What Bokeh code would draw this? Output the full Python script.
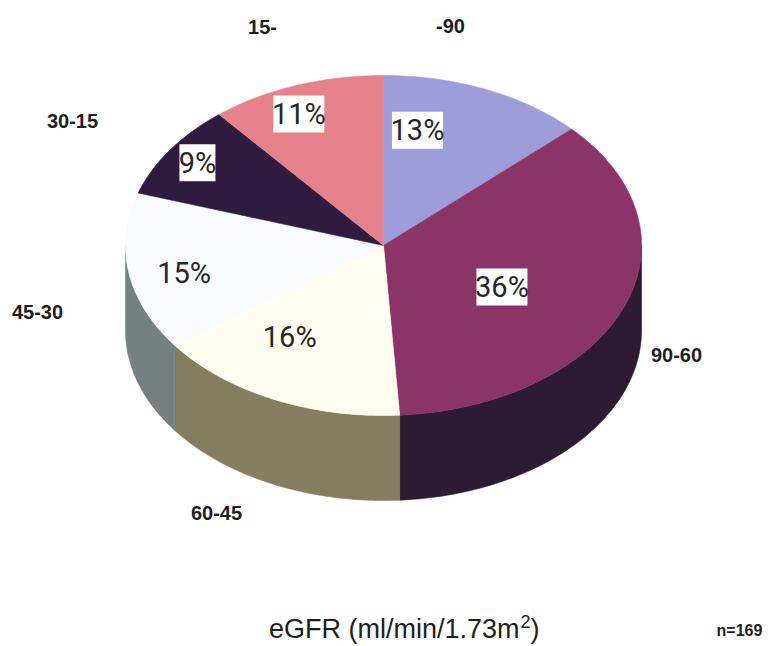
import math

from bokeh.core.properties import value
from bokeh.embed import file_html
from bokeh.models import Range1d
from bokeh.plotting import figure
from bokeh.resources import INLINE

# --- data -------------------------------------------------------------
categories = ["-90", "90-60", "60-45", "45-30", "30-15", "15-"]
shares = [13, 36, 16, 15, 9, 11]          # percent of patients
boxed = [True, True, False, False, True, True]
top_colors = ["#9d9ed9", "#8b3467", "#fffdf0", "#f9fcff", "#2f1b3f", "#e6828b"]
side_colors = ["#6d6ea3", "#2d1a33", "#847d5f", "#758181", "#1b1026", "#a85a62"]
n_patients = 169
title_main, title_sup, title_end = "eGFR (ml/min/1.73m", "2", ")"

# --- layout -------------------------------------------------------------
W, H = 768, 646
CX, CY = 383, 245          # pie centre
RX, RY = 258, 170          # ellipse radii of the top face
DEPTH = 85                 # thickness of the disc

# percent label placement: (angle clockwise from top, fraction of radius)
pct_polar = [(11, 0.69), (118, 0.52), (214, 0.65), (258, 0.79), (304, 0.87), (337, 0.84)]
# category label anchors
cat_pos = [(450, 25), (676, 354), (216, 512), (37, 311), (72, 120), (262, 26)]


def pt(theta_deg, r=1.0, drop=0.0):
    t = math.radians(theta_deg)
    return CX + RX * r * math.sin(t), CY - RY * r * math.cos(t) + drop


def arc(t1, t2, drop=0.0, step=1.0):
    n = max(2, int(abs(t2 - t1) / step) + 1)
    return [pt(t1 + (t2 - t1) * i / (n - 1), 1.0, drop) for i in range(n)]


total = float(sum(shares))
starts, ends = [], []
acc = 0.0
for s in shares:
    starts.append(acc / total * 360.0)
    acc += s
    ends.append(acc / total * 360.0)

p = figure(width=W, height=H, x_range=Range1d(0, W), y_range=Range1d(H, 0),
           x_axis_type=None, y_axis_type=None, toolbar_location=None,
           output_backend="svg", min_border=0, outline_line_color=None)
p.grid.visible = False
p.background_fill_color = "white"
p.border_fill_color = "white"

# front rim of the disc (only the half facing the viewer shows)
side_xs, side_ys, side_c = [], [], []
for t1, t2, c in zip(starts, ends, side_colors):
    a, b = max(t1, 90.0), min(t2, 270.0)
    if a >= b:
        continue
    pts = arc(a, b) + arc(b, a, DEPTH)
    side_xs.append([q[0] for q in pts])
    side_ys.append([q[1] for q in pts])
    side_c.append(c)
p.patches(xs=side_xs, ys=side_ys, fill_color=side_c, line_color=side_c, line_width=0.6)

# top face wedges
top_xs, top_ys = [], []
for t1, t2 in zip(starts, ends):
    pts = [(CX, CY)] + arc(t1, t2)
    top_xs.append([q[0] for q in pts])
    top_ys.append([q[1] for q in pts])
p.patches(xs=top_xs, ys=top_ys, fill_color=top_colors, line_color=top_colors, line_width=0.6)

# percentage labels
pct_text = [f"{s}%" for s in shares]
lx, ly = [], []
for ang, r in pct_polar:
    x, y = pt(ang, r)
    lx.append(x)
    ly.append(y)

bx = [x for x, b in zip(lx, boxed) if b]
by = [y for y, b in zip(ly, boxed) if b]
bw = [15 * len(t) + 6 for t, b in zip(pct_text, boxed) if b]
p.rect(x=bx, y=by, width=bw, height=37, fill_color="white", line_color=None)

p.text(x=lx, y=ly, text=pct_text, text_align="center", text_baseline="middle",
       text_font=value("Roboto"), text_font_size="29px", text_color="#262626")

# category labels
p.text(x=[c[0] for c in cat_pos], y=[c[1] for c in cat_pos], text=categories,
       text_align="center", text_baseline="middle", text_font=value("Liberation Sans"),
       text_font_style="bold", text_font_size="20px", text_color="#1e1e1e")

# axis caption with raised exponent
TX, TY = 519, 628
p.text(x=[TX], y=[TY], text=[title_main], text_align="right", text_baseline="middle",
       text_font=value("Liberation Sans"), text_font_size="27px", text_color="#1e1e1e")
p.text(x=[TX + 1], y=[TY - 7], text=[title_sup], text_align="left", text_baseline="middle",
       text_font=value("Liberation Sans"), text_font_size="18px", text_color="#1e1e1e")
p.text(x=[TX + 11], y=[TY], text=[title_end], text_align="left", text_baseline="middle",
       text_font=value("Liberation Sans"), text_font_size="27px", text_color="#1e1e1e")

# sample size
p.text(x=[739], y=[630], text=[f"n={n_patients}"], text_align="center",
       text_baseline="middle", text_font=value("Liberation Sans"),
       text_font_style="bold", text_font_size="16px", text_color="#1e1e1e")

with open("out.html", "w") as f:
    f.write(file_html(p, INLINE))
